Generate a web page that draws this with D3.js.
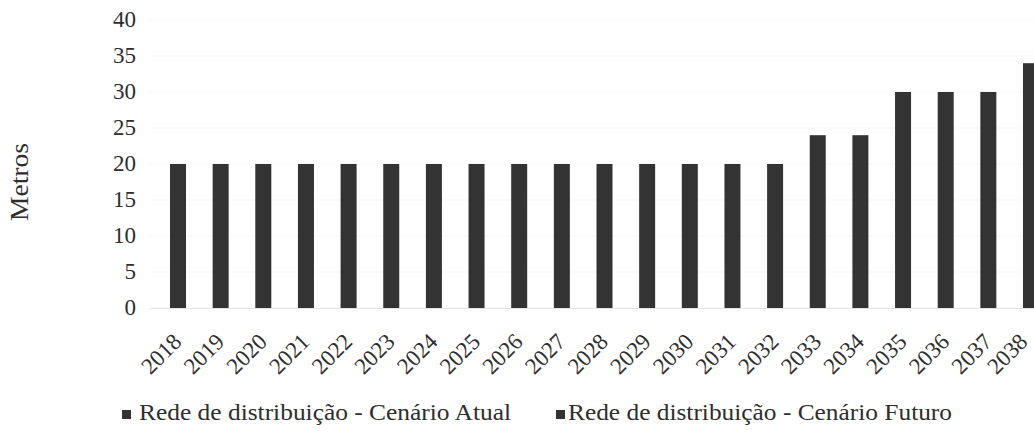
<!DOCTYPE html>
<html>
<head>
<meta charset="utf-8">
<script src="https://cdn.jsdelivr.net/npm/d3@7/dist/d3.min.js"></script>
<style>
  html, body { margin: 0; padding: 0; background: #fff; overflow: hidden; }
  svg { display: block; }
  text { font-family: "Liberation Serif", "DejaVu Serif", serif; fill: #2e2e2e; }
</style>
</head>
<body>
<svg id="chart" width="1034" height="434"></svg>
<script>
// ---- data ----
const years = ["2018","2019","2020","2021","2022","2023","2024","2025","2026","2027","2028",
               "2029","2030","2031","2032","2033","2034","2035","2036","2037","2038"];
const seriesNames = ["Rede de distribuição - Cenário Atual", "Rede de distribuição - Cenário Futuro"];
const redeValues = [20,20,20,20,20,20,20,20,20,20,20,20,20,20,20,24,24,30,30,30,34];
const yTicks = [0,5,10,15,20,25,30,35,40];
const yTitle = "Metros";

// ---- layout ----
const svg = d3.select("#chart");
const barColor = "#333333";
const serif = '"Liberation Serif", "DejaVu Serif", serif';

const y = d3.scaleLinear().domain([0, 40]).range([308, 20]);
const step = 42.65;
const x = d3.scaleBand()
  .domain(years)
  .range([170 - step * 0.125, 170 - step * 0.125 + step * years.length])
  .paddingInner(0.25)
  .paddingOuter(0.125);
const xSub = d3.scaleBand().domain(seriesNames).range([0, x.bandwidth()]);

// faint gridlines
svg.append("g").selectAll("line").data(yTicks.filter(d => d > 0)).join("line")
  .attr("x1", 150).attr("x2", 1034)
  .attr("y1", d => y(d)).attr("y2", d => y(d))
  .attr("stroke", "#f7f7f7").attr("stroke-width", 1);

// baseline
svg.append("line")
  .attr("x1", 150).attr("x2", 1034)
  .attr("y1", y(0) + 0.5).attr("y2", y(0) + 0.5)
  .attr("stroke", "#e6e6e6").attr("stroke-width", 1);

// bars
svg.append("g").selectAll("rect").data(years).join("rect")
  .attr("x", (d) => x(d) + xSub(seriesNames[0]))
  .attr("width", xSub.bandwidth())
  .attr("y", (d, i) => y(redeValues[i]))
  .attr("height", (d, i) => y(0) - y(redeValues[i]))
  .attr("fill", barColor);

// y axis labels
const yAxis = d3.axisLeft(y).tickValues(yTicks).tickSize(0).tickPadding(0);
const gy = svg.append("g").attr("transform", "translate(136,0)").call(yAxis);
gy.select(".domain").remove();
gy.selectAll("text")
  .style("font-family", serif)
  .style("font-size", "23px")
  .attr("fill", "#2e2e2e")
  .attr("dy", "0.3em");

// x axis labels
const xAxis = d3.axisBottom(x).tickSize(0).tickPadding(0);
const gx = svg.append("g").call(xAxis);
gx.select(".domain").remove();
gx.selectAll(".tick").attr("transform", d => `translate(${Math.min(x(d) + x.bandwidth() / 2 - 3, 1029)},343)`);
gx.selectAll("text")
  .style("font-family", serif)
  .style("font-size", "23px")
  .attr("fill", "#2e2e2e")
  .attr("y", 0).attr("dy", 0)
  .attr("text-anchor", "end")
  .attr("transform", "rotate(-45)");

// y title
svg.append("text")
  .attr("transform", "translate(28,182) rotate(-90)")
  .attr("text-anchor", "middle")
  .attr("textLength", 78)
  .attr("lengthAdjust", "spacingAndGlyphs")
  .style("font-family", serif)
  .style("font-size", "25px")
  .text(yTitle);

// legend
const legendItems = [
  { name: seriesNames[0], mx: 122, tx: 139, tl: 372 },
  { name: seriesNames[1], mx: 556, tx: 568, tl: 384 }
];
const lg = svg.append("g").selectAll("g").data(legendItems).join("g");
lg.append("rect")
  .attr("x", d => d.mx).attr("y", 410).attr("width", 9).attr("height", 9)
  .attr("fill", barColor);
lg.append("text")
  .attr("x", d => d.tx).attr("y", 420)
  .attr("textLength", d => d.tl)
  .attr("lengthAdjust", "spacingAndGlyphs")
  .style("font-family", serif)
  .style("font-size", "24px")
  .attr("fill", "#2e2e2e")
  .text(d => d.name);
</script>
</body>
</html>
